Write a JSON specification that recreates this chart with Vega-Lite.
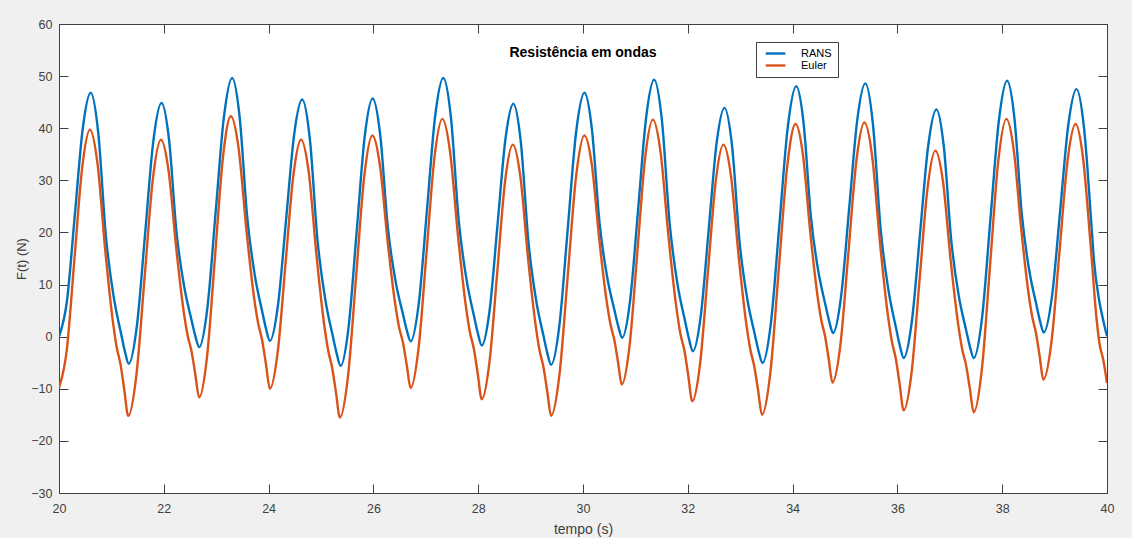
{
"$schema": "https://vega.github.io/schema/vega-lite/v6.json",
"width": 1048, "height": 469,
"autosize": {"type": "none"},
"padding": {"left": 59, "top": 24, "right": 25, "bottom": 45},
"background": "#f0f0f0",
"config": {"view": {"fill": "white", "stroke": "#404040", "strokeWidth": 1}, "font": "Liberation Sans"},
"title": {"text": "Resistência em ondas", "fontSize": 14, "fontWeight": "bold", "color": "#000000", "font": "Liberation Sans", "offset": -42, "anchor": "middle"},
"datasets": {
"series": [
{"t":20.000,"F":0.0,"s":"RANS"},{"t":20.151,"F":6.8,"s":"RANS"},{"t":20.303,"F":23.4,"s":"RANS"},{"t":20.454,"F":40.0,"s":"RANS"},{"t":20.605,"F":46.8,"s":"RANS"},{"t":20.750,"F":39.0,"s":"RANS"},{"t":20.895,"F":19.24,"s":"RANS"},{"t":21.041,"F":7.8,"s":"RANS"},{"t":21.186,"F":0.52,"s":"RANS"},{"t":21.258,"F":-2.86,"s":"RANS"},{"t":21.331,"F":-5.2,"s":"RANS"},
{"t":21.487,"F":2.11,"s":"RANS"},{"t":21.644,"F":19.83,"s":"RANS"},{"t":21.800,"F":37.54,"s":"RANS"},{"t":21.956,"F":44.85,"s":"RANS"},{"t":22.100,"F":37.82,"s":"RANS"},{"t":22.243,"F":20.02,"s":"RANS"},{"t":22.387,"F":9.71,"s":"RANS"},{"t":22.530,"F":3.15,"s":"RANS"},{"t":22.602,"F":0.11,"s":"RANS"},{"t":22.674,"F":-2.0,"s":"RANS"},
{"t":22.832,"F":5.54,"s":"RANS"},{"t":22.989,"F":23.83,"s":"RANS"},{"t":23.147,"F":42.11,"s":"RANS"},{"t":23.304,"F":49.65,"s":"RANS"},{"t":23.448,"F":42.08,"s":"RANS"},{"t":23.592,"F":22.91,"s":"RANS"},{"t":23.736,"F":11.81,"s":"RANS"},{"t":23.880,"F":4.75,"s":"RANS"},{"t":23.952,"F":1.47,"s":"RANS"},{"t":24.024,"F":-0.8,"s":"RANS"},
{"t":24.178,"F":5.96,"s":"RANS"},{"t":24.333,"F":22.35,"s":"RANS"},{"t":24.487,"F":38.74,"s":"RANS"},{"t":24.641,"F":45.5,"s":"RANS"},{"t":24.788,"F":37.84,"s":"RANS"},{"t":24.934,"F":18.42,"s":"RANS"},{"t":25.081,"F":7.18,"s":"RANS"},{"t":25.227,"F":0.02,"s":"RANS"},{"t":25.301,"F":-3.30,"s":"RANS"},{"t":25.374,"F":-5.6,"s":"RANS"},
{"t":25.527,"F":1.89,"s":"RANS"},{"t":25.680,"F":20.05,"s":"RANS"},{"t":25.832,"F":38.21,"s":"RANS"},{"t":25.985,"F":45.7,"s":"RANS"},{"t":26.130,"F":38.71,"s":"RANS"},{"t":26.275,"F":21.00,"s":"RANS"},{"t":26.421,"F":10.75,"s":"RANS"},{"t":26.566,"F":4.23,"s":"RANS"},{"t":26.638,"F":1.20,"s":"RANS"},{"t":26.711,"F":-0.9,"s":"RANS"},
{"t":26.867,"F":6.48,"s":"RANS"},{"t":27.023,"F":24.38,"s":"RANS"},{"t":27.178,"F":42.27,"s":"RANS"},{"t":27.334,"F":49.65,"s":"RANS"},{"t":27.481,"F":41.95,"s":"RANS"},{"t":27.627,"F":22.43,"s":"RANS"},{"t":27.774,"F":11.14,"s":"RANS"},{"t":27.920,"F":3.95,"s":"RANS"},{"t":27.994,"F":0.61,"s":"RANS"},{"t":28.067,"F":-1.7,"s":"RANS"},
{"t":28.218,"F":5.07,"s":"RANS"},{"t":28.369,"F":21.5,"s":"RANS"},{"t":28.520,"F":37.93,"s":"RANS"},{"t":28.671,"F":44.7,"s":"RANS"},{"t":28.815,"F":37.19,"s":"RANS"},{"t":28.959,"F":18.15,"s":"RANS"},{"t":29.103,"F":7.13,"s":"RANS"},{"t":29.247,"F":0.11,"s":"RANS"},{"t":29.319,"F":-3.15,"s":"RANS"},{"t":29.391,"F":-5.4,"s":"RANS"},
{"t":29.550,"F":2.22,"s":"RANS"},{"t":29.709,"F":20.7,"s":"RANS"},{"t":29.868,"F":39.18,"s":"RANS"},{"t":30.027,"F":46.8,"s":"RANS"},{"t":30.171,"F":39.75,"s":"RANS"},{"t":30.315,"F":21.89,"s":"RANS"},{"t":30.459,"F":11.55,"s":"RANS"},{"t":30.603,"F":4.97,"s":"RANS"},{"t":30.675,"F":1.92,"s":"RANS"},{"t":30.747,"F":-0.2,"s":"RANS"},
{"t":30.900,"F":7.03,"s":"RANS"},{"t":31.053,"F":24.55,"s":"RANS"},{"t":31.205,"F":42.07,"s":"RANS"},{"t":31.358,"F":49.3,"s":"RANS"},{"t":31.506,"F":41.49,"s":"RANS"},{"t":31.654,"F":21.69,"s":"RANS"},{"t":31.801,"F":10.23,"s":"RANS"},{"t":31.949,"F":2.93,"s":"RANS"},{"t":32.023,"F":-0.46,"s":"RANS"},{"t":32.097,"F":-2.8,"s":"RANS"},
{"t":32.248,"F":4.02,"s":"RANS"},{"t":32.399,"F":20.55,"s":"RANS"},{"t":32.549,"F":37.08,"s":"RANS"},{"t":32.700,"F":43.9,"s":"RANS"},{"t":32.845,"F":36.56,"s":"RANS"},{"t":32.990,"F":17.96,"s":"RANS"},{"t":33.136,"F":7.19,"s":"RANS"},{"t":33.281,"F":0.33,"s":"RANS"},{"t":33.353,"F":-2.85,"s":"RANS"},{"t":33.426,"F":-5.05,"s":"RANS"},
{"t":33.587,"F":2.70,"s":"RANS"},{"t":33.748,"F":21.50,"s":"RANS"},{"t":33.909,"F":40.30,"s":"RANS"},{"t":34.070,"F":48.05,"s":"RANS"},{"t":34.210,"F":40.95,"s":"RANS"},{"t":34.350,"F":22.95,"s":"RANS"},{"t":34.491,"F":12.54,"s":"RANS"},{"t":34.631,"F":5.91,"s":"RANS"},{"t":34.701,"F":2.83,"s":"RANS"},{"t":34.771,"F":0.7,"s":"RANS"},
{"t":34.925,"F":7.69,"s":"RANS"},{"t":35.080,"F":24.65,"s":"RANS"},{"t":35.234,"F":41.61,"s":"RANS"},{"t":35.388,"F":48.6,"s":"RANS"},{"t":35.534,"F":40.7,"s":"RANS"},{"t":35.680,"F":20.67,"s":"RANS"},{"t":35.827,"F":9.08,"s":"RANS"},{"t":35.973,"F":1.70,"s":"RANS"},{"t":36.046,"F":-1.73,"s":"RANS"},{"t":36.119,"F":-4.1,"s":"RANS"},
{"t":36.275,"F":2.86,"s":"RANS"},{"t":36.432,"F":19.75,"s":"RANS"},{"t":36.588,"F":36.64,"s":"RANS"},{"t":36.744,"F":43.6,"s":"RANS"},{"t":36.886,"F":36.45,"s":"RANS"},{"t":37.029,"F":18.32,"s":"RANS"},{"t":37.171,"F":7.83,"s":"RANS"},{"t":37.314,"F":1.15,"s":"RANS"},{"t":37.385,"F":-1.95,"s":"RANS"},{"t":37.456,"F":-4.1,"s":"RANS"},
{"t":37.616,"F":3.67,"s":"RANS"},{"t":37.775,"F":22.5,"s":"RANS"},{"t":37.935,"F":41.33,"s":"RANS"},{"t":38.094,"F":49.1,"s":"RANS"},{"t":38.234,"F":41.86,"s":"RANS"},{"t":38.374,"F":23.50,"s":"RANS"},{"t":38.513,"F":12.88,"s":"RANS"},{"t":38.653,"F":6.11,"s":"RANS"},{"t":38.723,"F":2.97,"s":"RANS"},{"t":38.793,"F":0.8,"s":"RANS"},
{"t":38.949,"F":7.62,"s":"RANS"},{"t":39.106,"F":24.15,"s":"RANS"},{"t":39.262,"F":40.68,"s":"RANS"},{"t":39.418,"F":47.5,"s":"RANS"},{"t":39.562,"F":40.0,"s":"RANS"},{"t":39.706,"F":21.0,"s":"RANS"},{"t":39.750,"F":14.8,"s":"RANS"},{"t":39.850,"F":7.0,"s":"RANS"},{"t":39.920,"F":3.5,"s":"RANS"},{"t":40.000,"F":0.1,"s":"RANS"},
{"t":20.000,"F":-9.8,"s":"Euler"},{"t":20.148,"F":-2.57,"s":"Euler"},{"t":20.295,"F":14.95,"s":"Euler"},{"t":20.443,"F":32.47,"s":"Euler"},{"t":20.590,"F":39.7,"s":"Euler"},{"t":20.736,"F":33.11,"s":"Euler"},{"t":20.882,"F":16.64,"s":"Euler"},{"t":21.028,"F":2.92,"s":"Euler"},{"t":21.101,"F":-2.02,"s":"Euler"},{"t":21.174,"F":-5.32,"s":"Euler"},{"t":21.247,"F":-10.26,"s":"Euler"},{"t":21.320,"F":-15.2,"s":"Euler"},
{"t":21.476,"F":-7.46,"s":"Euler"},{"t":21.633,"F":11.3,"s":"Euler"},{"t":21.789,"F":30.06,"s":"Euler"},{"t":21.945,"F":37.8,"s":"Euler"},{"t":22.091,"F":31.87,"s":"Euler"},{"t":22.237,"F":17.03,"s":"Euler"},{"t":22.382,"F":4.67,"s":"Euler"},{"t":22.455,"F":0.22,"s":"Euler"},{"t":22.528,"F":-2.75,"s":"Euler"},{"t":22.601,"F":-7.20,"s":"Euler"},{"t":22.674,"F":-11.65,"s":"Euler"},
{"t":22.826,"F":-3.77,"s":"Euler"},{"t":22.977,"F":15.33,"s":"Euler"},{"t":23.129,"F":34.42,"s":"Euler"},{"t":23.280,"F":42.3,"s":"Euler"},{"t":23.429,"F":36.02,"s":"Euler"},{"t":23.578,"F":20.33,"s":"Euler"},{"t":23.726,"F":7.26,"s":"Euler"},{"t":23.801,"F":2.55,"s":"Euler"},{"t":23.875,"F":-0.59,"s":"Euler"},{"t":23.950,"F":-5.29,"s":"Euler"},{"t":24.024,"F":-10.0,"s":"Euler"},
{"t":24.173,"F":-3.02,"s":"Euler"},{"t":24.322,"F":13.9,"s":"Euler"},{"t":24.471,"F":30.82,"s":"Euler"},{"t":24.620,"F":37.8,"s":"Euler"},{"t":24.768,"F":31.4,"s":"Euler"},{"t":24.916,"F":15.41,"s":"Euler"},{"t":25.064,"F":2.09,"s":"Euler"},{"t":25.138,"F":-2.71,"s":"Euler"},{"t":25.212,"F":-5.91,"s":"Euler"},{"t":25.286,"F":-10.70,"s":"Euler"},{"t":25.360,"F":-15.5,"s":"Euler"},
{"t":25.515,"F":-7.60,"s":"Euler"},{"t":25.670,"F":11.55,"s":"Euler"},{"t":25.825,"F":30.7,"s":"Euler"},{"t":25.980,"F":38.6,"s":"Euler"},{"t":26.126,"F":32.79,"s":"Euler"},{"t":26.272,"F":18.25,"s":"Euler"},{"t":26.418,"F":6.14,"s":"Euler"},{"t":26.491,"F":1.78,"s":"Euler"},{"t":26.564,"F":-1.13,"s":"Euler"},{"t":26.637,"F":-5.49,"s":"Euler"},{"t":26.710,"F":-9.85,"s":"Euler"},
{"t":26.861,"F":-2.31,"s":"Euler"},{"t":27.013,"F":15.98,"s":"Euler"},{"t":27.164,"F":34.26,"s":"Euler"},{"t":27.315,"F":41.8,"s":"Euler"},{"t":27.465,"F":35.34,"s":"Euler"},{"t":27.616,"F":19.2,"s":"Euler"},{"t":27.766,"F":5.75,"s":"Euler"},{"t":27.841,"F":0.91,"s":"Euler"},{"t":27.917,"F":-2.32,"s":"Euler"},{"t":27.992,"F":-7.16,"s":"Euler"},{"t":28.067,"F":-12.0,"s":"Euler"},
{"t":28.215,"F":-4.87,"s":"Euler"},{"t":28.364,"F":12.43,"s":"Euler"},{"t":28.512,"F":29.72,"s":"Euler"},{"t":28.660,"F":36.85,"s":"Euler"},{"t":28.806,"F":30.6,"s":"Euler"},{"t":28.952,"F":14.99,"s":"Euler"},{"t":29.099,"F":1.98,"s":"Euler"},{"t":29.172,"F":-2.71,"s":"Euler"},{"t":29.245,"F":-5.83,"s":"Euler"},{"t":29.318,"F":-10.52,"s":"Euler"},{"t":29.391,"F":-15.2,"s":"Euler"},
{"t":29.550,"F":-7.35,"s":"Euler"},{"t":29.709,"F":11.7,"s":"Euler"},{"t":29.868,"F":30.75,"s":"Euler"},{"t":30.027,"F":38.6,"s":"Euler"},{"t":30.170,"F":32.86,"s":"Euler"},{"t":30.312,"F":18.52,"s":"Euler"},{"t":30.455,"F":6.57,"s":"Euler"},{"t":30.526,"F":2.27,"s":"Euler"},{"t":30.597,"F":-0.60,"s":"Euler"},{"t":30.669,"F":-4.90,"s":"Euler"},{"t":30.740,"F":-9.2,"s":"Euler"},
{"t":30.888,"F":-1.78,"s":"Euler"},{"t":31.037,"F":16.23,"s":"Euler"},{"t":31.185,"F":34.23,"s":"Euler"},{"t":31.333,"F":41.65,"s":"Euler"},{"t":31.483,"F":35.16,"s":"Euler"},{"t":31.634,"F":18.95,"s":"Euler"},{"t":31.784,"F":5.44,"s":"Euler"},{"t":31.859,"F":0.57,"s":"Euler"},{"t":31.935,"F":-2.67,"s":"Euler"},{"t":32.010,"F":-7.54,"s":"Euler"},{"t":32.085,"F":-12.4,"s":"Euler"},
{"t":32.234,"F":-5.21,"s":"Euler"},{"t":32.383,"F":12.23,"s":"Euler"},{"t":32.531,"F":29.66,"s":"Euler"},{"t":32.680,"F":36.85,"s":"Euler"},{"t":32.827,"F":30.63,"s":"Euler"},{"t":32.974,"F":15.07,"s":"Euler"},{"t":33.121,"F":2.11,"s":"Euler"},{"t":33.195,"F":-2.56,"s":"Euler"},{"t":33.268,"F":-5.67,"s":"Euler"},{"t":33.342,"F":-10.33,"s":"Euler"},{"t":33.415,"F":-15.0,"s":"Euler"},
{"t":33.576,"F":-6.85,"s":"Euler"},{"t":33.736,"F":12.9,"s":"Euler"},{"t":33.897,"F":32.65,"s":"Euler"},{"t":34.057,"F":40.8,"s":"Euler"},{"t":34.198,"F":34.85,"s":"Euler"},{"t":34.338,"F":19.97,"s":"Euler"},{"t":34.479,"F":7.57,"s":"Euler"},{"t":34.549,"F":3.1,"s":"Euler"},{"t":34.619,"F":0.13,"s":"Euler"},{"t":34.690,"F":-4.34,"s":"Euler"},{"t":34.760,"F":-8.8,"s":"Euler"},
{"t":34.913,"F":-1.51,"s":"Euler"},{"t":35.065,"F":16.15,"s":"Euler"},{"t":35.218,"F":33.81,"s":"Euler"},{"t":35.370,"F":41.1,"s":"Euler"},{"t":35.520,"F":34.47,"s":"Euler"},{"t":35.669,"F":17.9,"s":"Euler"},{"t":35.819,"F":4.08,"s":"Euler"},{"t":35.894,"F":-0.89,"s":"Euler"},{"t":35.969,"F":-4.2,"s":"Euler"},{"t":36.044,"F":-9.18,"s":"Euler"},{"t":36.119,"F":-14.15,"s":"Euler"},
{"t":36.271,"F":-6.87,"s":"Euler"},{"t":36.422,"F":10.78,"s":"Euler"},{"t":36.574,"F":28.42,"s":"Euler"},{"t":36.725,"F":35.7,"s":"Euler"},{"t":36.871,"F":29.68,"s":"Euler"},{"t":37.017,"F":14.62,"s":"Euler"},{"t":37.164,"F":2.07,"s":"Euler"},{"t":37.237,"F":-2.45,"s":"Euler"},{"t":37.310,"F":-5.46,"s":"Euler"},{"t":37.383,"F":-9.98,"s":"Euler"},{"t":37.456,"F":-14.5,"s":"Euler"},
{"t":37.612,"F":-6.28,"s":"Euler"},{"t":37.768,"F":13.65,"s":"Euler"},{"t":37.924,"F":33.58,"s":"Euler"},{"t":38.080,"F":41.8,"s":"Euler"},{"t":38.221,"F":35.79,"s":"Euler"},{"t":38.362,"F":20.78,"s":"Euler"},{"t":38.503,"F":8.27,"s":"Euler"},{"t":38.574,"F":3.76,"s":"Euler"},{"t":38.644,"F":0.76,"s":"Euler"},{"t":38.715,"F":-3.75,"s":"Euler"},{"t":38.785,"F":-8.25,"s":"Euler"},
{"t":38.939,"F":-1.09,"s":"Euler"},{"t":39.093,"F":16.28,"s":"Euler"},{"t":39.246,"F":33.64,"s":"Euler"},{"t":39.400,"F":40.8,"s":"Euler"},{"t":39.546,"F":34.0,"s":"Euler"},{"t":39.692,"F":17.0,"s":"Euler"},{"t":39.800,"F":3.5,"s":"Euler"},{"t":39.860,"F":-1.5,"s":"Euler"},{"t":39.930,"F":-4.5,"s":"Euler"},{"t":40.000,"F":-8.9,"s":"Euler"}
]
},
"data": {"name": "series"},
"layer": [
{
"mark": {"type": "line", "interpolate": "monotone", "strokeWidth": 2.4, "clip": true},
"encoding": {
"x": {"field": "t", "type": "quantitative", "scale": {"domain": [20, 40], "nice": false, "zero": false},
 "axis": {"orient": "bottom", "values": [20,22,24,26,28,30,32,34,36,38,40], "grid": false, "tickSize": -9, "tickColor": "#404040", "domainColor": "#404040", "labelColor": "#404040", "labelFontSize": 12.5, "labelPadding": 18, "labelFlush": false, "labelOverlap": false, "title": "tempo (s)", "titleFontSize": 14, "titleFontWeight": "normal", "titleColor": "#404040", "titlePadding": 8}},
"y": {"field": "F", "type": "quantitative", "scale": {"domain": [-30, 60], "nice": false, "zero": false},
 "axis": {"orient": "left", "values": [-30,-20,-10,0,10,20,30,40,50,60], "grid": false, "tickSize": -9, "tickColor": "#404040", "domainColor": "#404040", "labelColor": "#404040", "labelFontSize": 12.5, "labelPadding": 16, "labelFlush": false, "labelOverlap": false, "title": "F(t) (N)", "titleFontSize": 13, "titleFontWeight": "normal", "titleColor": "#404040", "titlePadding": 2}},
"color": {"field": "s", "type": "nominal", "scale": {"domain": ["RANS", "Euler"], "range": ["#0072BD", "#D95319"]},
 "legend": {"title": null, "orient": "none", "legendX": 697, "legendY": 18, "direction": "vertical", "fillColor": "white", "strokeColor": "#404040", "padding": 6, "symbolType": "M-0.5,0H5.1", "symbolSize": 49, "symbolStrokeWidth": 2.4, "labelFontSize": 11, "labelColor": "#000000", "labelOffset": 28, "rowPadding": 0, "cornerRadius": 0}}
}
},
{
"mark": {"type": "point", "opacity": 0},
"encoding": {
"x": {"field": "t", "type": "quantitative", "scale": {"domain": [20, 40], "nice": false, "zero": false},
 "axis": {"orient": "top", "values": [20,22,24,26,28,30,32,34,36,38,40], "grid": false, "labels": false, "title": null, "tickSize": -9, "tickColor": "#404040", "domainColor": "#404040"}},
"y": {"field": "F", "type": "quantitative", "scale": {"domain": [-30, 60], "nice": false, "zero": false},
 "axis": {"orient": "right", "values": [-30,-20,-10,0,10,20,30,40,50,60], "grid": false, "labels": false, "title": null, "tickSize": -9, "tickColor": "#404040", "domainColor": "#404040"}}
}
}
],
"resolve": {"axis": {"x": "independent", "y": "independent"}}
}
